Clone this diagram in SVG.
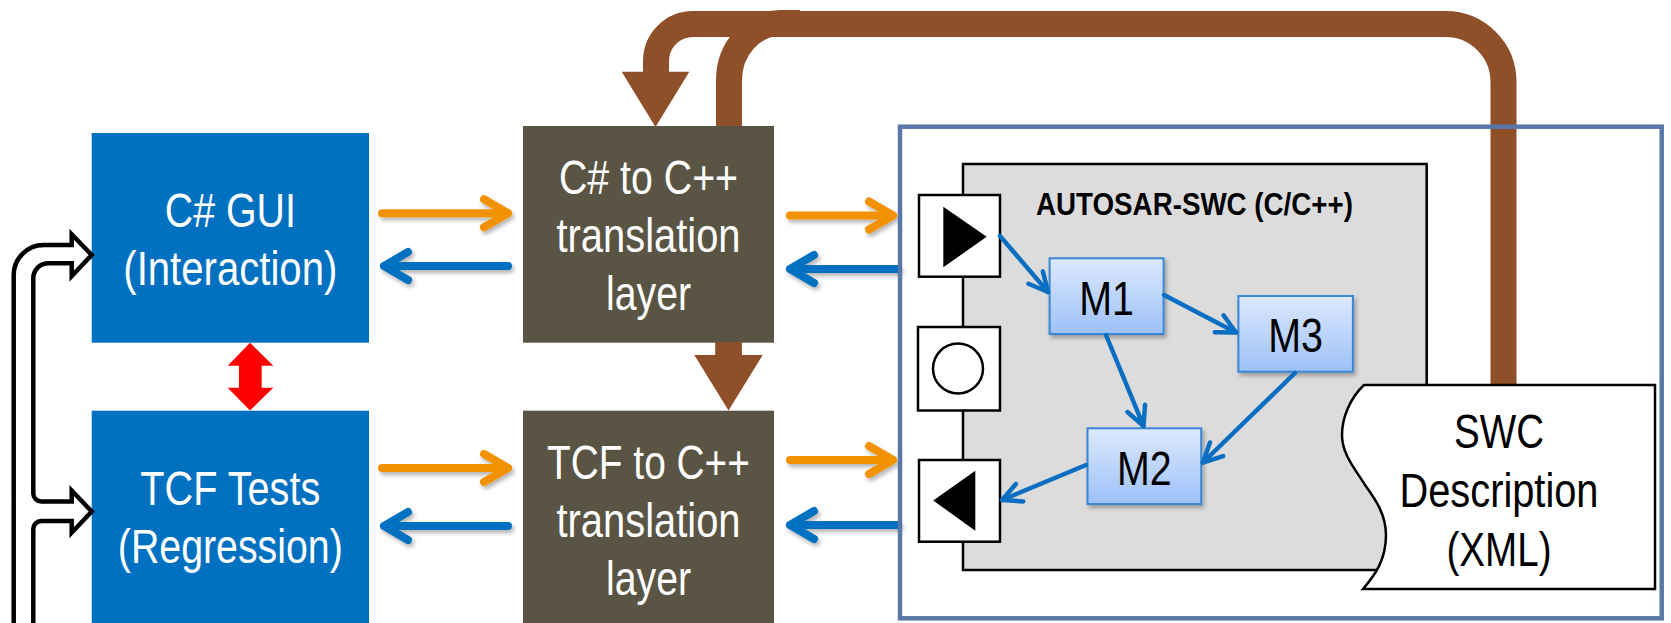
<svg xmlns="http://www.w3.org/2000/svg" width="1671" height="623" viewBox="0 0 1671 623">
<style>
.t{font-family:"Liberation Sans",Arial,sans-serif;font-size:48px;text-anchor:middle}
.w{fill:#FFFFFF}
.k{fill:#000000}
.blue{fill:#0070C0}
.dark{fill:#5A5444}
.brown{fill:none;stroke:#8F4F28;stroke-width:26}
.brownf{fill:#8F4F28}
.or{fill:none;stroke:#F39200;stroke-width:8;stroke-linecap:round;stroke-linejoin:round}
.bl{fill:none;stroke:#0070C0;stroke-width:8;stroke-linecap:round;stroke-linejoin:round}
.ib{fill:none;stroke:#0A6FC2;stroke-width:4.5;stroke-linecap:round}
.port{fill:#FFFFFF;stroke:#000000;stroke-width:2.5}
.mod{fill:url(#mg);stroke:#3A87D6;stroke-width:2}
.hollow{fill:none;stroke:#000000;stroke-width:4.5;stroke-linejoin:miter}
</style>
<defs>
<linearGradient id="mg" x1="0" y1="0" x2="0" y2="1">
<stop offset="0" stop-color="#DDE9FE"/>
<stop offset="1" stop-color="#9CC1F8"/>
</linearGradient>
<filter id="sh" x="-20%" y="-40%" width="140%" height="180%">
<feDropShadow dx="2" dy="3" stdDeviation="2" flood-color="#000000" flood-opacity="0.3"/>
</filter>
<marker id="ah" markerUnits="userSpaceOnUse" viewBox="-24 -14 28 28" markerWidth="28" markerHeight="28" refX="0" refY="0" orient="auto">
<path d="M-19,-9.5 L0,0 L-19,9.5" fill="none" stroke="#0A6FC2" stroke-width="4.5" stroke-linecap="round" stroke-linejoin="round"/>
</marker>
</defs>

<g id="gui">
<rect class="blue" x="91.7" y="133" width="277.3" height="209.7"/>
<text class="t w" x="230.3" y="227" textLength="131" lengthAdjust="spacingAndGlyphs">C# GUI</text>
<text class="t w" x="230.3" y="285" textLength="214" lengthAdjust="spacingAndGlyphs">(Interaction)</text>
</g>
<g id="tcf-tests">
<rect class="blue" x="91.7" y="410.7" width="277.3" height="215"/>
<text class="t w" x="230.3" y="505" textLength="180" lengthAdjust="spacingAndGlyphs">TCF Tests</text>
<text class="t w" x="230.3" y="563" textLength="225" lengthAdjust="spacingAndGlyphs">(Regression)</text>
</g>
<g id="cs-to-cpp">
<rect class="dark" x="523" y="126" width="251" height="216.7"/>
<text class="t w" x="648.5" y="194" textLength="179" lengthAdjust="spacingAndGlyphs">C# to C++</text>
<text class="t w" x="648.5" y="252" textLength="184" lengthAdjust="spacingAndGlyphs">translation</text>
<text class="t w" x="648.5" y="310" textLength="85" lengthAdjust="spacingAndGlyphs">layer</text>
</g>
<g id="tcf-to-cpp">
<rect class="dark" x="523" y="410.7" width="251" height="215"/>
<text class="t w" x="648.5" y="479" textLength="203" lengthAdjust="spacingAndGlyphs">TCF to C++</text>
<text class="t w" x="648.5" y="537" textLength="184" lengthAdjust="spacingAndGlyphs">translation</text>
<text class="t w" x="648.5" y="595" textLength="85" lengthAdjust="spacingAndGlyphs">layer</text>
</g>
<g id="autosar-swc">
<rect x="963" y="164" width="463.7" height="406" fill="#DCDCDC" stroke="#000000" stroke-width="2.5"/>
<text x="1194.5" y="215" font-family="'Liberation Sans',Arial,sans-serif" font-size="31" font-weight="bold" text-anchor="middle" textLength="317" lengthAdjust="spacingAndGlyphs" fill="#000000">AUTOSAR-SWC (C/C++)</text>
</g>
<g id="port-in">
<rect class="port" x="919" y="195" width="81" height="81.7"/>
<polygon class="k" points="943.3,206.7 943.3,267.3 986.7,236.8"/>
</g>
<g id="port-service">
<rect class="port" x="918" y="327" width="82" height="83.5"/>
<circle cx="958" cy="368.5" r="25" fill="#FFFFFF" stroke="#000000" stroke-width="2.5"/>
</g>
<g id="port-out">
<rect class="port" x="919" y="460" width="81" height="81.7"/>
<polygon class="k" points="975.3,470.7 975.3,530.7 933.2,500.5"/>
</g>
<g id="m1">
<rect class="mod" x="1049.6" y="258.3" width="114" height="75.7" filter="url(#sh)"/>
<text class="t k" x="1106.6" y="314.5" textLength="54.7" lengthAdjust="spacingAndGlyphs">M1</text>
</g>
<g id="m3">
<rect class="mod" x="1238.4" y="296" width="114.5" height="75.7" filter="url(#sh)"/>
<text class="t k" x="1295.6" y="352" textLength="54.7" lengthAdjust="spacingAndGlyphs">M3</text>
</g>
<g id="m2">
<rect class="mod" x="1087.5" y="428.3" width="113.7" height="75.7" filter="url(#sh)"/>
<text class="t k" x="1144.4" y="484.5" textLength="54.7" lengthAdjust="spacingAndGlyphs">M2</text>
</g>

<g id="connectors">
<path class="brown" d="M1503.5,386 V82 A58,58 0 0 0 1445.5,24 H693 A37,37 0 0 0 656,61 V72.5"/>
<polygon class="brownf" points="621.7,71.7 689.3,71.7 655.5,127"/>
<path class="brown" d="M729,126 V80 A52,57 0 0 1 781,23 H800"/>
<rect class="brownf" x="715.2" y="342" width="26.7" height="14"/>
<polygon class="brownf" points="694.3,355 762.7,355 728.5,410.5"/>
<g filter="url(#sh)">
<path class="or" d="M382,213.3 H508 M484,199.3 L508,213.3 L484,227.3"/>
<path class="bl" d="M508,266 H384 M408,252 L384,266 L408,280"/>
<path class="or" d="M382,468 H508 M484,454 L508,468 L484,482"/>
<path class="bl" d="M508,526 H384 M408,512 L384,526 L408,540"/>
<path class="or" d="M790,215.5 H893 M869,201.5 L893,215.5 L869,229.5"/>
<path class="bl" d="M897,269 H790 M814,255 L790,269 L814,283"/>
<path class="or" d="M790,460 H893 M869,446 L893,460 L869,474"/>
<path class="bl" d="M897,525 H790 M814,511 L790,525 L814,539"/>
</g>
<path class="ib" d="M1000,236 L1048,292" marker-end="url(#ah)"/>
<path class="ib" d="M1164,295 L1236,332.5" marker-end="url(#ah)"/>
<path class="ib" d="M1106,335 L1143.5,426" marker-end="url(#ah)"/>
<path class="ib" d="M1295,373 L1203,462.5" marker-end="url(#ah)"/>
<path class="ib" d="M1086,465 L1002,500" marker-end="url(#ah)"/>
<polygon fill="#FF0000" points="250,342.7 273.3,365.7 261.7,365.7 261.7,387.7 273.3,387.7 250,410.5 227.7,387.7 239,387.7 239,365.7 227.7,365.7"/>
<path class="hollow" d="M13.7,626 V275 A30,30 0 0 1 43.7,245 H71.7 V234.3 L91.7,255 L71.7,276 V263.3 H48.3 A15,15 0 0 0 33.3,278.3 V493.5 A8,8 0 0 0 41.3,501.5 H71.7 V490.5 L91.7,511.5 L71.7,532.7 V521 H41.3 A8,8 0 0 0 33.3,529 V626"/>
</g>

<g id="swc-container">
<rect x="900" y="126.7" width="761.7" height="491.6" fill="none" stroke="#5878AA" stroke-width="4.5"/>
</g>
<g id="swc-description">
<path d="M1364,385 H1655 V589 H1363 C1375,575 1386,560 1386,535 C1386,515 1376,500 1365,485 C1356,470 1342,455 1342,435 C1342,418 1350,398 1364,385 Z" fill="#FFFFFF" stroke="#000000" stroke-width="2.5"/>
<text class="t k" x="1499" y="448" textLength="90" lengthAdjust="spacingAndGlyphs">SWC</text>
<text class="t k" x="1499" y="507" textLength="199" lengthAdjust="spacingAndGlyphs">Description</text>
<text class="t k" x="1499" y="566" textLength="105" lengthAdjust="spacingAndGlyphs">(XML)</text>
</g>
</svg>
